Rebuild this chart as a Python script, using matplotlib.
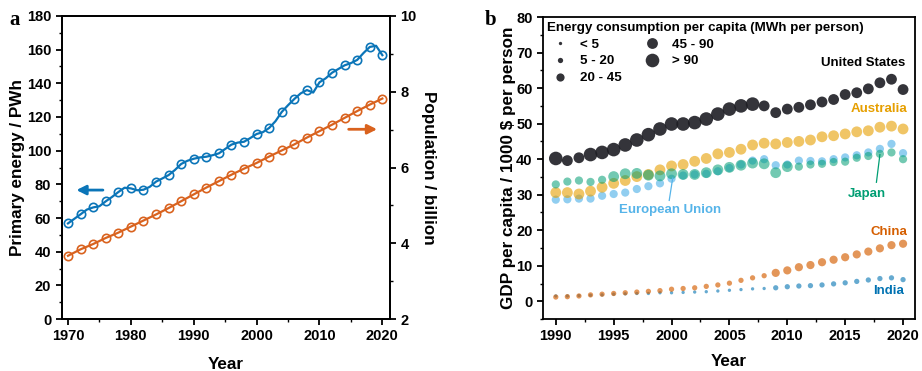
import matplotlib
matplotlib.use("Agg")
import matplotlib.pyplot as plt
from matplotlib.lines import Line2D
from matplotlib.ticker import MultipleLocator

plt.rcParams['font.family'] = ['Liberation Sans', 'DejaVu Sans']
plt.rcParams['font.weight'] = 'bold'

# ---- panel a data: world primary energy (PWh) and population (billion)
years_a = list(range(1970, 2021))
energy = [56.8, 59.5, 62.2, 65.0, 66.3, 67.0, 69.9, 72.5, 75.4, 78.0,
          77.6, 76.5, 76.8, 78.5, 81.6, 83.5, 85.5, 88.5, 92.1, 94.0,
          95.2, 96.0, 96.4, 97.3, 98.4, 101.0, 103.6, 104.8, 105.3, 107.5,
          109.9, 111.0, 113.5, 117.5, 123.0, 127.0, 130.7, 134.0, 136.0, 134.5,
          140.6, 143.0, 146.3, 148.5, 150.7, 152.0, 153.9, 158.0, 161.6, 162.3,
          156.7]
years_pop = list(range(1970, 2021, 2))
population = [3.67, 3.84, 3.98, 4.14, 4.28, 4.44, 4.60, 4.76, 4.93, 5.11,
              5.29, 5.47, 5.64, 5.81, 5.97, 6.12, 6.29, 6.45, 6.61, 6.79,
              6.96, 7.13, 7.31, 7.49, 7.66, 7.82]

# ---- panel b data: GDP per capita (1000 $) and energy class (0:<5 ... 4:>90)
years_b = list(range(1990, 2021))
gdp_us = [40.2, 39.6, 40.4, 41.3, 41.9, 42.7, 44.0, 45.4, 46.9, 48.5,
          49.9, 49.9, 50.3, 51.3, 52.7, 54.1, 55.0, 55.5, 55.0, 53.1,
          54.1, 54.6, 55.3, 56.1, 56.8, 58.2, 58.7, 59.8, 61.5, 62.5, 59.6]
cls_us = [4, 3, 3, 4, 4, 4, 4, 4, 4, 4, 4, 4, 4, 4, 4, 4, 4, 4, 3, 3,
          3, 3, 3, 3, 3, 3, 3, 3, 3, 3, 3]
gdp_au = [30.6, 30.6, 30.2, 31.0, 32.1, 33.2, 34.0, 35.1, 35.7, 37.0,
          38.1, 38.5, 39.4, 40.2, 41.5, 41.9, 42.8, 44.0, 44.5, 44.3,
          44.7, 45.0, 45.4, 46.3, 46.6, 47.1, 47.7, 48.0, 49.0, 49.3, 48.5]
cls_au = [3] * 31
gdp_eu = [28.6, 28.7, 28.9, 28.9, 29.7, 30.2, 30.6, 31.6, 32.4, 33.2,
          34.5, 35.4, 35.7, 35.9, 36.6, 37.5, 38.5, 39.6, 40.0, 38.3,
          38.5, 39.6, 39.5, 39.4, 40.0, 40.5, 41.1, 41.9, 42.9, 44.3, 41.7]
cls_eu = [2] * 31
gdp_jp = [32.9, 33.7, 34.0, 33.6, 34.2, 35.1, 35.9, 36.0, 35.5, 35.3,
          35.9, 35.7, 35.7, 36.2, 37.0, 37.7, 38.3, 38.9, 38.7, 36.2,
          37.9, 37.9, 38.5, 38.7, 39.2, 39.3, 40.4, 40.9, 41.5, 41.9, 40.0]
cls_jp = [2, 2, 2, 2, 2, 3, 3, 3, 3, 3, 3, 3, 3, 3, 3, 3, 3, 3, 3, 3,
          3, 2, 2, 2, 2, 2, 2, 2, 2, 2, 2]
gdp_cn = [1.2, 1.3, 1.5, 1.8, 2.0, 2.2, 2.4, 2.6, 2.8, 3.0,
          3.4, 3.6, 3.8, 4.2, 4.6, 5.1, 5.9, 6.6, 7.2, 8.0,
          8.7, 9.6, 10.2, 11.0, 11.7, 12.4, 13.2, 14.0, 14.9, 15.8, 16.2]
cls_cn = [1] * 19 + [2] * 12
gdp_in = [1.5, 1.5, 1.6, 1.7, 1.8, 2.0, 2.1, 2.2, 2.2, 2.4,
          2.4, 2.5, 2.6, 2.7, 2.9, 3.1, 3.3, 3.5, 3.6, 3.8,
          4.1, 4.3, 4.4, 4.6, 4.9, 5.2, 5.6, 6.0, 6.4, 6.6, 6.1]
cls_in = [0] * 19 + [1] * 12
class_labels = ['< 5', '5 - 20', '20 - 45', '45 - 90', '> 90']

marker_diam = [2.4, 3.8, 5.9, 7.8, 9.8]   # points, per class

blue = '#0B75B8'
orange = '#D9621E'
lab_fs = 12.3

fig = plt.figure(figsize=(9.22, 3.71), dpi=100)

# ================= panel a
ax = fig.add_axes([0.0669, 0.140, 0.356, 0.817])
ax2 = ax.twinx()
ax.plot(years_a, energy, color=blue, lw=1.6, marker='o', markevery=2, ms=6,
        mfc='none', mec=blue, mew=1.2, zorder=3)
ax2.plot(years_pop, population, color=orange, lw=1.6, marker='o', ms=6,
         mfc='none', mec=orange, mew=1.2)
ax.set_xlim(1969, 2021.2)
ax.set_ylim(0, 180)
ax2.set_ylim(2, 10)
ax.xaxis.set_major_locator(MultipleLocator(10))
ax.xaxis.set_minor_locator(MultipleLocator(5))
ax.yaxis.set_major_locator(MultipleLocator(20))
ax.yaxis.set_minor_locator(MultipleLocator(10))
ax2.yaxis.set_major_locator(MultipleLocator(2))
ax2.yaxis.set_minor_locator(MultipleLocator(1))
for a in (ax, ax2):
    for s in a.spines.values():
        s.set_linewidth(1.3)
    a.tick_params(which='major', length=4, width=1.3, labelsize=10.5, direction='out')
    a.tick_params(which='minor', length=2.5, width=1.0, direction='out')
ax.set_xlabel('Year', fontsize=lab_fs, fontweight='bold')
ax.set_ylabel('Primary energy / PWh', fontsize=lab_fs, fontweight='bold')
ax2.set_ylabel('Population / billion', fontsize=lab_fs, fontweight='bold', rotation=270)
ax.xaxis.set_label_coords(0.5, -0.124)
ax.yaxis.set_label_coords(-0.113, 0.5)
ax2.yaxis.set_label_coords(1.139, 0.5)
ax.annotate('', xy=(1970.9, 76.6), xytext=(1976.0, 76.6),
            arrowprops=dict(arrowstyle='-|>', color=blue, lw=2, mutation_scale=14))
ax.annotate('', xy=(2019.6, 112.7), xytext=(2014.2, 112.7),
            arrowprops=dict(arrowstyle='-|>', color=orange, lw=2, mutation_scale=14))
fig.text(0.010, 0.946, 'a', fontsize=15, fontweight='bold',
         family=['Liberation Serif', 'DejaVu Serif'], va='center')

# ================= panel b
bx = fig.add_axes([0.589, 0.140, 0.403, 0.814])
series = [
    (gdp_in, cls_in, '#0072B2', 0.6),
    (gdp_cn, cls_cn, '#D55E00', 0.65),
    (gdp_eu, cls_eu, '#56B4E9', 0.65),
    (gdp_au, cls_au, '#E69F00', 0.6),
    (gdp_jp, cls_jp, '#009E73', 0.55),
    (gdp_us, cls_us, '#1E1E24', 0.9),
]
for vals, cls, col, alpha in series:
    sizes = [marker_diam[c] ** 2 for c in cls]
    bx.scatter(years_b, vals, s=sizes, color=col, alpha=alpha, linewidths=0)

bx.set_xlim(1988.9, 2021)
bx.set_ylim(-5, 80)
bx.xaxis.set_major_locator(MultipleLocator(5))
bx.xaxis.set_minor_locator(MultipleLocator(2.5))
bx.yaxis.set_major_locator(MultipleLocator(10))
bx.yaxis.set_minor_locator(MultipleLocator(5))
for s in bx.spines.values():
    s.set_linewidth(1.3)
bx.tick_params(which='major', length=4, width=1.3, labelsize=10.5, direction='out')
bx.tick_params(which='minor', length=2.5, width=1.0, direction='out')
bx.set_xlabel('Year', fontsize=lab_fs, fontweight='bold')
bx.set_ylabel('GDP per capita / 1000 $ per person', fontsize=lab_fs, fontweight='bold')
bx.xaxis.set_label_coords(0.5, -0.117)
bx.yaxis.set_label_coords(-0.072, 0.5)

handles = [Line2D([], [], ls='none', marker='o', ms=d, mfc='#333338', mec='none')
           for d in marker_diam]
leg = bx.legend(handles, class_labels, ncol=2, loc='upper left',
                bbox_to_anchor=(0.006, 0.988),
                title='Energy consumption per capita (MWh per person)',
                frameon=False, fontsize=9.6, title_fontsize=9.6,
                alignment='left', borderaxespad=0.0, handlelength=2.0,
                handletextpad=0.5, columnspacing=1.3, labelspacing=0.33,
                borderpad=0.1)
leg.get_title().set_fontweight('bold')

bx.text(2020.2, 67.1, 'United States', color='black', fontsize=9.5, ha='right', va='center')
bx.text(2020.4, 54.2, 'Australia', color='#E69F00', fontsize=9.5, ha='right', va='center')
bx.text(2016.9, 30.2, 'Japan', color='#009E73', fontsize=9.5, ha='center', va='center')
bx.plot([2017.7, 2018.0], [33.5, 41.3], color='#009E73', lw=0.9)
bx.text(1999.9, 25.8, 'European Union', color='#56B4E9', fontsize=9.5, ha='center', va='center')
bx.plot([1999.8, 2000.1], [28.4, 34.7], color='#56B4E9', lw=0.9)
bx.text(2020.4, 19.5, 'China', color='#D55E00', fontsize=9.5, ha='right', va='center')
bx.text(2020.1, 2.9, 'India', color='#0072B2', fontsize=9.5, ha='right', va='center')
fig.text(0.526, 0.946, 'b', fontsize=15, fontweight='bold',
         family=['Liberation Serif', 'DejaVu Serif'], va='center')

fig.savefig('out.png', dpi=100)
